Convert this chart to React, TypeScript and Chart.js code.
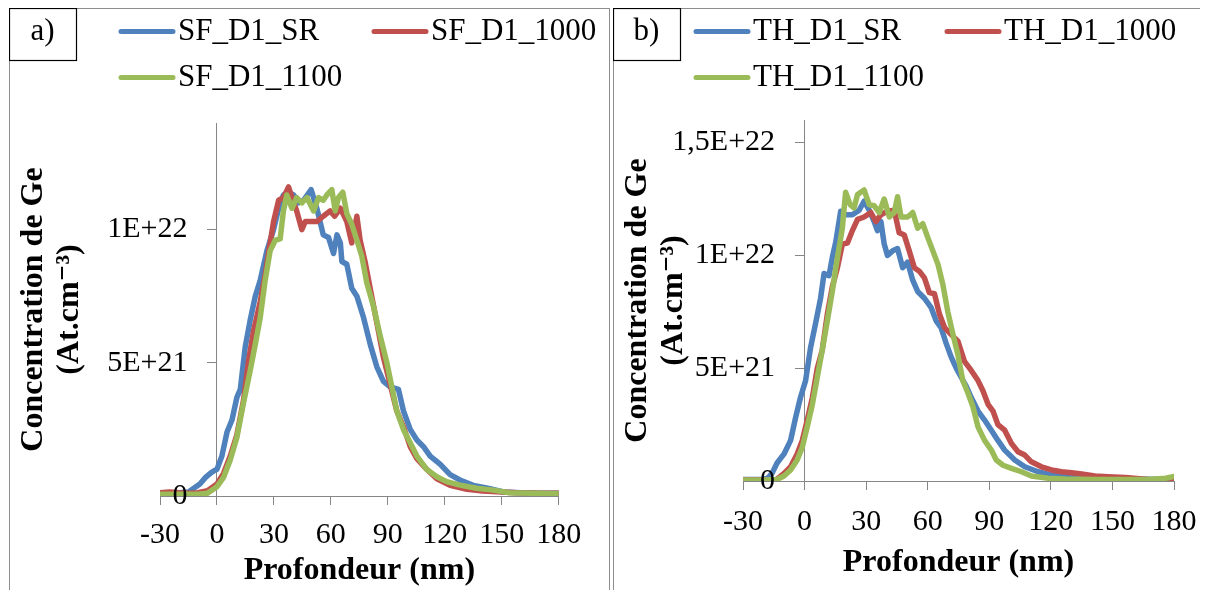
import { useEffect, useRef } from "react";
import { Chart, registerables } from "chart.js";

Chart.register(...registerables);

const FONT = "'Liberation Serif', 'Times New Roman', 'DejaVu Serif', serif";
const AXIS_GRAY = "#868686";
const FRAME_GRAY = "#8e8e8e";
const BLUE = "#4F81BD";
const RED = "#C0504D";
const GREEN = "#9BBB59";

// ---- shared axis ticks ----
const xTickValues = [-30, 0, 30, 60, 90, 120, 150, 180];
const xTickLabels = ["-30", "0", "30", "60", "90", "120", "150", "180"];

// concentrations are in units of 1E+21 At.cm-3
const yTickValuesA = [0, 5, 10];
const yTickLabelsA = ["0", "5E+21", "1E+22"];
const yTickValuesB = [0, 5, 10, 15];
const yTickLabelsB = ["0", "5E+21", "1E+22", "1,5E+22"];

// ---- panel a) ----
const seriesNamesA = ["SF_D1_SR", "SF_D1_1000", "SF_D1_1100"];

const depthA_SR = [-30, -25, -20, -15, -12, -9, -6, -3.5, -1.5, 0, 2.6, 5.3, 7.9, 10.5, 12.3, 14.9, 17.5, 20.2, 22.8, 26.3, 29.8, 32.5, 35, 37.7, 40.4, 43, 45.6, 49.6, 52.6, 56, 58.8, 61.4, 63.2, 65, 65.8, 68.4, 71, 73.7, 77.2, 80.7, 84.2, 87.7, 91.2, 95.6, 98.2, 101.8, 105.3, 108.8, 112.3, 117.5, 122.8, 128, 135, 142, 151, 160, 170, 180];
const concA_SR = [0.1, 0.1, 0.12, 0.15, 0.3, 0.45, 0.7, 0.85, 0.95, 1.0, 1.5, 2.4, 2.85, 3.7, 4.0, 5.6, 6.6, 7.5, 8.1, 9.2, 10.0, 10.8, 11.3, 11.4, 11.3, 11.0, 11.1, 11.5, 10.8, 9.8, 9.7, 9.1, 9.8, 9.5, 8.8, 8.7, 7.8, 7.5, 6.7, 5.7, 4.85, 4.3, 4.1, 4.0, 3.2, 2.5, 2.1, 1.85, 1.5, 1.2, 0.8, 0.6, 0.4, 0.3, 0.15, 0.12, 0.1, 0.1];

const depthA_1000 = [-30, -25, -20, -15, -10, -5, 0, 3.5, 7, 10.5, 14, 16.7, 19.3, 22.8, 25.4, 28, 29.8, 32.5, 35, 37.7, 39.5, 42, 44.7, 46.5, 49, 52.6, 56, 59.6, 62, 65, 68.4, 71, 73.7, 75.4, 78, 80.7, 84.2, 87.7, 91.2, 94.7, 98.2, 101.8, 105.3, 110.5, 115.8, 122.8, 131.6, 140, 150, 158, 170, 180];
const concA_1000 = [0.12, 0.15, 0.12, 0.1, 0.12, 0.2, 0.45, 0.85, 1.5, 2.3, 3.6, 5.1, 6.2, 7.3, 8.3, 9.5, 10.3, 11.1, 11.2, 11.6, 11.2, 10.7, 10.0, 10.3, 10.3, 10.3, 10.5, 10.7, 10.5, 10.8, 10.3, 9.5, 10.5, 9.6, 8.8, 7.8, 6.5, 5.2, 4.2, 3.2, 2.6, 1.85, 1.4, 1.0, 0.65, 0.4, 0.25, 0.19, 0.15, 0.12, 0.1, 0.1];

const depthA_1100 = [-30, -20, -10, -5, 0, 3.5, 7, 10.5, 14, 17.5, 20.2, 22.8, 25.4, 28, 30.7, 33.3, 35, 36.8, 39.5, 42, 44.7, 47.4, 50.9, 53.5, 56, 57.9, 60.5, 62.3, 64, 66.3, 68.4, 71, 73.7, 76.3, 78.9, 82.5, 86, 89.5, 92.1, 94.7, 98.2, 101.8, 105.3, 110.5, 115.8, 121, 128, 136.8, 145.6, 154, 166.7, 180];
const concA_1100 = [0.07, 0.07, 0.07, 0.1, 0.35, 0.7, 1.35, 2.2, 3.5, 4.7, 5.7, 6.7, 8.1, 9.2, 9.6, 9.65, 10.7, 11.3, 10.8, 11.2, 11.0, 11.2, 10.7, 11.2, 11.1, 11.3, 11.5, 10.7, 11.2, 11.4, 10.6, 10.2, 9.6, 9.0, 8.0, 7.1, 6.0, 5.0, 4.1, 3.2, 2.5, 2.0, 1.5, 1.0, 0.72, 0.54, 0.41, 0.29, 0.22, 0.12, 0.1, 0.08];

// ---- panel b) ----
const seriesNamesB = ["TH_D1_SR", "TH_D1_1000", "TH_D1_1100"];

const depthB_SR = [-30, -25, -20, -18, -15.8, -13.4, -10, -6.8, -4.4, -2, 0.5, 2.9, 5.4, 7.8, 9.5, 11.9, 13.5, 15.2, 17.6, 20, 23.3, 26.6, 29, 31.5, 33.9, 35.5, 37.2, 38.8, 40.4, 42.9, 45.3, 47.8, 50.2, 52.7, 55.1, 58.4, 61.6, 64.1, 66.5, 69, 71.4, 73.9, 76.3, 78.8, 81.2, 84.5, 87.7, 91, 94.2, 97.5, 102.4, 107.3, 113.8, 120.3, 126.9, 143, 160, 180];
const concB_SR = [0.07, 0.07, 0.08, 0.12, 0.35, 0.8, 1.2, 1.8, 2.8, 3.7, 4.45, 5.9, 7.0, 8.1, 9.2, 9.1, 9.9, 10.6, 11.96, 11.8, 11.8, 12.0, 12.4, 12.0, 11.5, 11.1, 11.5, 10.5, 10.0, 10.2, 10.3, 9.45, 9.7, 8.9, 8.4, 8.1, 7.7, 7.1, 6.8, 6.1, 5.5, 5.0, 4.6, 4.2, 3.7, 3.1, 2.7, 2.25, 1.8, 1.37, 0.93, 0.63, 0.41, 0.26, 0.19, 0.12, 0.08, 0.08];

const depthB_1000 = [-30, -20, -15, -13.4, -10, -6.8, -3.6, -1.1, 1.3, 3.8, 6.2, 8.6, 11.1, 13.5, 16, 18.4, 20.9, 23.3, 25.8, 29, 32.3, 34.7, 37.2, 40.4, 43.7, 46.1, 48.6, 51, 53.5, 55.9, 58.4, 60.8, 63.3, 65.7, 68.2, 71.4, 74.7, 77.9, 81.2, 84.5, 86.9, 89.4, 91.8, 94.2, 97.5, 100.8, 104, 107.3, 110.5, 115.4, 120.3, 125.2, 130.1, 135, 141.5, 148, 156.2, 167.6, 180];
const concB_1000 = [0.05, 0.05, 0.05, 0.08, 0.34, 0.63, 1.2, 1.8, 2.7, 3.7, 5.0, 5.8, 7.4, 8.6, 9.45, 10.5, 10.55, 11.1, 11.6, 11.7, 11.9, 11.5, 11.8, 11.96, 12.0, 11.0, 10.9, 10.2, 9.45, 9.3, 9.0, 8.35, 8.3, 7.4, 6.8, 6.5, 6.2, 5.3, 4.9, 4.45, 4.0, 3.4, 3.1, 2.5, 2.25, 1.66, 1.3, 1.15, 0.85, 0.63, 0.49, 0.41, 0.37, 0.31, 0.22, 0.19, 0.15, 0.07, 0.04];

const depthB_1100 = [-30, -20, -13.4, -10, -6.8, -3.6, -1.1, 1.3, 3.8, 6.2, 8.6, 11.1, 13.5, 16, 18.4, 20, 22.2, 24.1, 25.8, 29, 31.5, 33.9, 36.4, 38.8, 41.3, 43.7, 45.3, 47, 50.2, 52.7, 55.1, 57.6, 60, 62.5, 65, 67.4, 69.8, 72.3, 74.7, 77.1, 79.6, 82, 84.5, 87.7, 91, 93.4, 96.7, 100.8, 105.7, 110.5, 118.7, 126.9, 143, 167.6, 176, 180];
const concB_1100 = [0.04, 0.04, 0.07, 0.22, 0.49, 0.93, 1.5, 2.4, 3.4, 4.6, 5.8, 7.1, 8.4, 9.9, 11.2, 12.8, 12.25, 12.1, 12.7, 12.9, 12.25, 12.2, 11.9, 12.5, 11.7, 11.9, 12.6, 11.7, 11.7, 11.9, 11.2, 11.4, 10.8, 10.2, 9.6, 8.7, 7.5, 6.5, 5.6, 4.45, 3.9, 3.3, 2.4, 1.8, 1.37, 0.93, 0.7, 0.56, 0.41, 0.22, 0.12, 0.09, 0.07, 0.07, 0.12, 0.2];

type PanelCfg = {
  letter: string;
  names: string[];
  depths: number[][];
  concs: number[][];
  yMax: number;
  yTickValues: number[];
  yTickLabels: string[];
  layoutPad: { left: number; right: number; top: number; bottom: number };
  yTitleWidth: number;
  xAxisHeight: number;
  xTickPadding: number;
  legendPos: { x: number; y: number }[];
};

const panelA: PanelCfg = {
  letter: "a)",
  names: seriesNamesA,
  depths: [depthA_SR, depthA_1000, depthA_1100],
  concs: [concA_SR, concA_1000, concA_1100],
  yMax: 14,
  yTickValues: yTickValuesA,
  yTickLabels: yTickLabelsA,
  layoutPad: { left: 0, right: 51.3, top: 115, bottom: 18.6 },
  yTitleWidth: 151,
  xAxisHeight: 93.4,
  xTickPadding: 12.5,
  legendPos: [
    { x: 110, y: 23.5 },
    { x: 363, y: 23.5 },
    { x: 110, y: 69.5 },
  ],
};

const panelB: PanelCfg = {
  letter: "b)",
  names: seriesNamesB,
  depths: [depthB_SR, depthB_1000, depthB_1100],
  concs: [concB_SR, concB_1000, concB_1100],
  yMax: 16,
  yTickValues: yTickValuesB,
  yTickLabels: yTickLabelsB,
  layoutPad: { left: 0, right: 40, top: 112, bottom: 26.6 },
  yTitleWidth: 130,
  xAxisHeight: 100.4,
  xTickPadding: 14,
  legendPos: [
    { x: 81, y: 23.5 },
    { x: 332, y: 23.5 },
    { x: 81, y: 69.5 },
  ],
};

const COLORS = [BLUE, RED, GREEN];

function makeOverlay(cfg: PanelCfg) {
  return {
    id: "overlay",
    afterDraw(chart: any) {
      const ctx = chart.ctx as CanvasRenderingContext2D;
      const xs = chart.scales.x;
      const ys = chart.scales.y;
      ctx.save();
      // y tick labels next to the y axis placed at x = 0
      const axisX = xs.getPixelForValue(0);
      ctx.font = `30px ${FONT}`;
      ctx.fillStyle = "#000";
      ctx.textAlign = "right";
      ctx.textBaseline = "middle";
      ys.ticks.forEach((t: any, i: number) => {
        ctx.fillText(cfg.yTickLabels[i], axisX - 29.5, ys.getPixelForValue(t.value));
      });
      // panel letter box
      ctx.strokeStyle = "#000";
      ctx.lineWidth = 1.2;
      ctx.strokeRect(0.5, 0.5, 67, 52);
      ctx.font = `31px ${FONT}`;
      ctx.textAlign = "center";
      ctx.textBaseline = "alphabetic";
      ctx.fillText(cfg.letter, 33.5, 31.5);
      // legend
      chart.data.datasets.forEach((ds: any, i: number) => {
        const p = cfg.legendPos[i];
        ctx.strokeStyle = ds.borderColor;
        ctx.lineWidth = 5;
        ctx.lineCap = "round";
        ctx.beginPath();
        ctx.moveTo(p.x + 2, p.y);
        ctx.lineTo(p.x + 54, p.y);
        ctx.stroke();
        ctx.fillStyle = "#000";
        ctx.font = `31px ${FONT}`;
        ctx.textAlign = "left";
        ctx.textBaseline = "middle";
        ctx.fillText(ds.label, p.x + 59, p.y);
      });
      ctx.restore();
    },
  };
}

function Panel({ cfg, left }: { cfg: PanelCfg; left: number }) {
  const ref = useRef<HTMLCanvasElement | null>(null);
  useEffect(() => {
    if (!ref.current) return;
    const datasets = cfg.names.map((name, i) => ({
      label: name,
      data: cfg.depths[i].map((d, j) => ({ x: d, y: cfg.concs[i][j] })),
      borderColor: COLORS[i],
      backgroundColor: COLORS[i],
      borderWidth: 5.5,
      pointRadius: 0,
      tension: 0,
      borderJoinStyle: "round" as const,
      borderCapStyle: "round" as const,
      xAxisID: "x",
      yAxisID: "y",
      order: 3 - i,
    }));
    const chart = new Chart(ref.current, {
      type: "line",
      data: { datasets },
      plugins: [makeOverlay(cfg)],
      options: {
        animation: false,
        responsive: false,
        maintainAspectRatio: false,
        layout: { padding: cfg.layoutPad },
        plugins: { legend: { display: false }, tooltip: { enabled: false } },
        scales: {
          x: {
            type: "linear",
            position: "bottom",
            min: -30,
            max: 180,
            afterBuildTicks: (s: any) => {
              s.ticks = xTickValues.map((v) => ({ value: v }));
            },
            afterFit: (s: any) => {
              s.height = cfg.xAxisHeight;
            },
            grid: {
              display: true,
              drawOnChartArea: false,
              drawTicks: true,
              tickLength: 9,
              color: AXIS_GRAY,
              lineWidth: 1,
            },
            border: { display: true, color: AXIS_GRAY, width: 1 },
            ticks: {
              color: "#000",
              font: { family: FONT, size: 30, lineHeight: 1.2 },
              padding: cfg.xTickPadding,
              maxRotation: 0,
              autoSkip: false,
              callback: (_v: any, i: number) => xTickLabels[i],
            },
            title: {
              display: true,
              text: "Profondeur (nm)",
              color: "#000",
              font: { family: FONT, size: 32, weight: "bold", lineHeight: 1.15 },
              padding: { top: 0, bottom: 0 },
            },
          },
          y: {
            type: "linear",
            axis: "y",
            position: { x: 0 },
            min: 0,
            max: cfg.yMax,
            afterBuildTicks: (s: any) => {
              s.ticks = cfg.yTickValues.map((v) => ({ value: v }));
            },
            grid: {
              display: true,
              drawOnChartArea: false,
              drawTicks: true,
              tickLength: 9,
              color: AXIS_GRAY,
              lineWidth: 1,
            },
            border: { display: true, color: AXIS_GRAY, width: 1 },
            ticks: { display: false },
          },
          yt: {
            type: "linear",
            axis: "y",
            position: "left",
            grid: { display: false },
            border: { display: false },
            ticks: { display: false },
            afterFit: (s: any) => {
              s.width = cfg.yTitleWidth;
            },
            title: {
              display: true,
              text: ["Concentration de Ge", "(At.cm\u207B\u00B3)"],
              color: "#000",
              font: { family: FONT, size: 32, weight: "bold", lineHeight: 1.15 },
              padding: { top: 6, bottom: 0 },
            },
          },
        },
      } as any,
    });
    return () => chart.destroy();
  }, [cfg]);

  return (
    <div
      style={{
        position: "absolute",
        left,
        top: 0,
        width: 601,
        height: 640,
        border: `1px solid ${FRAME_GRAY}`,
        boxSizing: "border-box",
        background: "#fff",
      }}
    >
      <canvas
        ref={ref}
        width={601}
        height={600}
        style={{ position: "absolute", left: -1, top: -1, width: 601, height: 600 }}
      />
    </div>
  );
}

export default function App() {
  return (
    <div style={{ position: "relative", width: 1200, height: 582, overflow: "hidden", background: "#fff" }}>
      <Panel cfg={panelA} left={1} />
      <Panel cfg={panelB} left={605} />
    </div>
  );
}
